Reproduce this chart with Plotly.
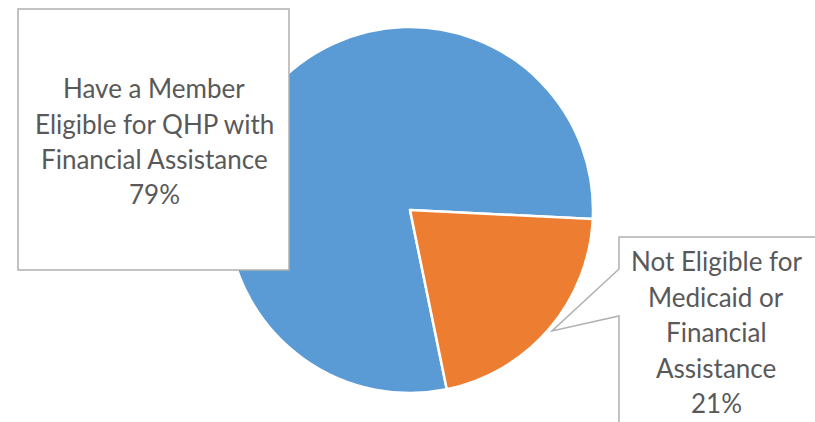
import plotly.graph_objects as go

W, H = 815, 422

labels = ["Have a Member Eligible for QHP with Financial Assistance",
          "Not Eligible for Medicaid or Financial Assistance"]
values = [79, 21]
colors = ["#5B9BD5", "#ED7D31"]

left_lines = ["Have a Member", "Eligible for QHP with", "Financial Assistance", "79%"]
right_lines = ["Not Eligible for", "Medicaid or", "Financial", "Assistance", "21%"]


def px(x):
    return x / W


def py(y):
    return 1 - y / H


cx, cy, r = 410, 210, 183

fig = go.Figure(go.Pie(
    labels=labels, values=values, sort=False, direction="clockwise",
    rotation=168.4,
    marker=dict(colors=colors, line=dict(color="white", width=2.5)),
    textinfo="none", hoverinfo="label+percent", showlegend=False,
    domain=dict(x=[px(cx - r), px(cx + r)], y=[py(cy + r), py(cy - r)]),
))

shapes = [
    dict(type="rect", xref="paper", yref="paper",
         x0=px(18), x1=px(289), y0=py(270), y1=py(9),
         fillcolor="white", line=dict(color="#b0b0b0", width=1.5), layer="above"),
    dict(type="path", xref="paper", yref="paper",
         path=("M {a},{b} L {c},{b} L {c},{d} L {e},{f} L {c},{g} L {c},{h} L {i},{h} Z").format(
             a=px(840), b=py(237), c=px(619), d=py(269), e=px(552), f=py(331),
             g=py(316), h=py(440), i=px(840)),
         fillcolor="white", line=dict(color="#b0b0b0", width=1.5), layer="above"),
]

annotations = []
font = dict(family="Lato", size=26, color="#595959")
for i, t in enumerate(left_lines):
    annotations.append(dict(text=t, x=px(154), y=py(88.5 + 35.3 * i), xref="paper", yref="paper",
                            showarrow=False, xanchor="center", yanchor="middle", font=font))
for i, t in enumerate(right_lines):
    annotations.append(dict(text=t, x=px(716), y=py(261 + 35.6 * i), xref="paper", yref="paper",
                            showarrow=False, xanchor="center", yanchor="middle", font=font))

fig.update_layout(width=W, height=H, margin=dict(l=0, r=0, t=0, b=0),
                  paper_bgcolor="white", plot_bgcolor="white",
                  shapes=shapes, annotations=annotations)

fig.write_html("out.html")
